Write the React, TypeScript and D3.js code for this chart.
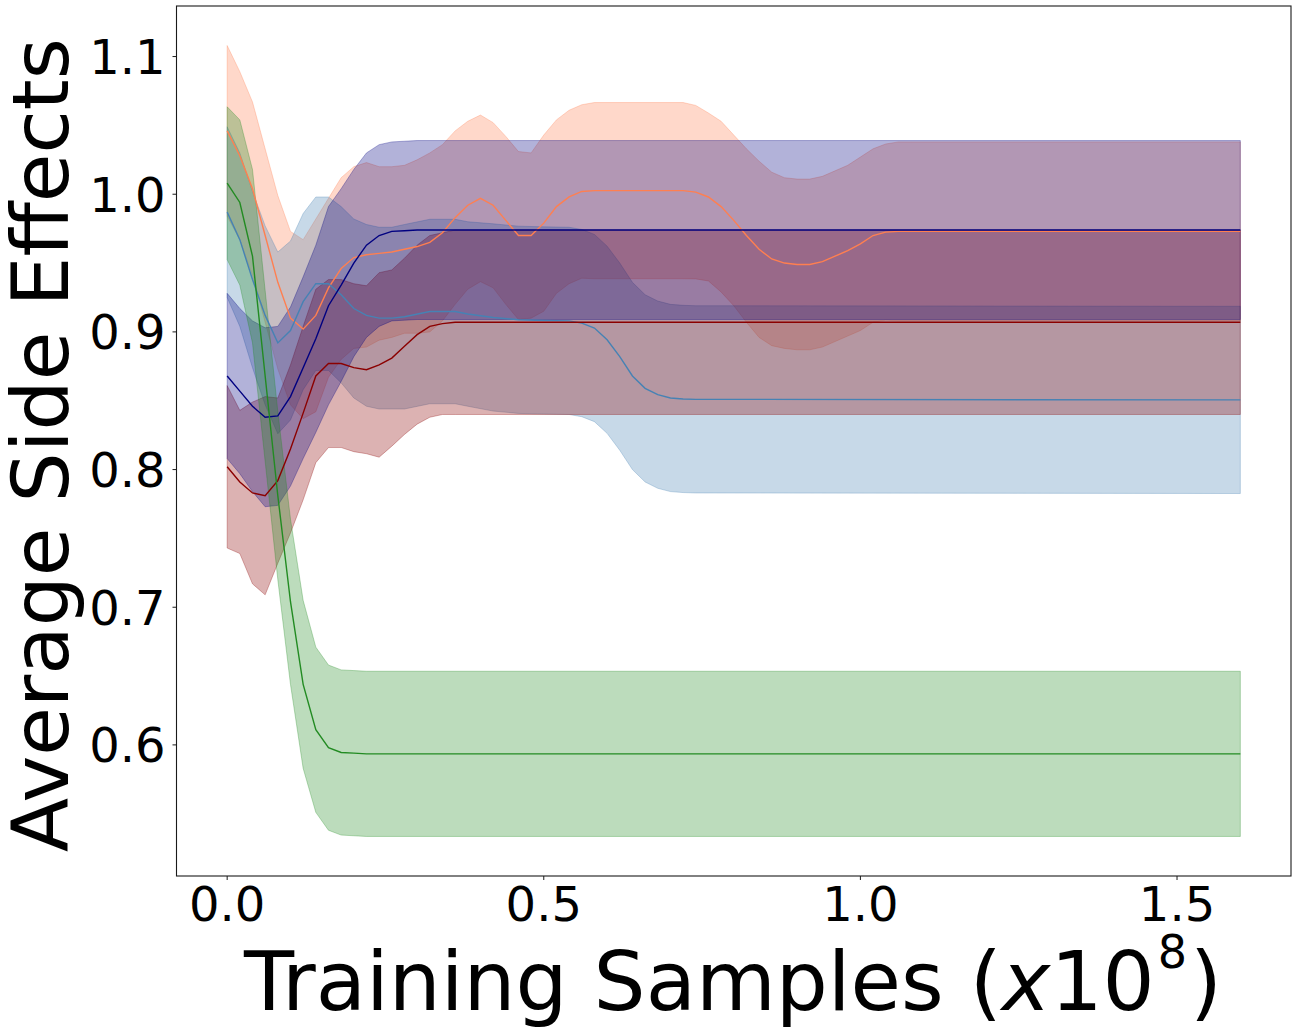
import { useRef, useEffect } from 'react';
import * as d3 from 'd3';

const xTicks = [0.0, 0.5, 1.0, 1.5];
const yTicks = [0.6, 0.7, 0.8, 0.9, 1.0, 1.1];

// coral run
const coralX = [0, 0.02, 0.04, 0.06, 0.08, 0.1, 0.12, 0.14, 0.16, 0.18, 0.2, 0.22, 0.24, 0.26, 0.28, 0.3, 0.32, 0.34, 0.36, 0.38, 0.4, 0.42, 0.44, 0.46, 0.48, 0.5, 0.52, 0.54, 0.56, 0.58, 0.72, 0.74, 0.76, 0.78, 0.8, 0.82, 0.84, 0.86, 0.88, 0.9, 0.92, 0.94, 0.96, 0.98, 1.0, 1.02, 1.04, 1.06, 1.08, 1.6];
const coralMean = [1.046, 1.028, 1.004, 0.97, 0.936, 0.91, 0.902, 0.912, 0.932, 0.946, 0.954, 0.956, 0.957, 0.958, 0.96, 0.962, 0.965, 0.972, 0.983, 0.992, 0.997, 0.992, 0.981, 0.97, 0.97, 0.979, 0.991, 0.998, 1.002, 1.0026, 1.0026, 1.0015, 0.998, 0.991, 0.981, 0.97, 0.96, 0.953, 0.95, 0.949, 0.949, 0.951, 0.955, 0.959, 0.964, 0.97, 0.9725, 0.973, 0.973, 0.973];
const coralSd = [0.062, 0.061, 0.063, 0.063, 0.063, 0.063, 0.065, 0.07, 0.065, 0.066, 0.066, 0.067, 0.063, 0.062, 0.061, 0.063, 0.065, 0.064, 0.063, 0.061, 0.0605, 0.06, 0.061, 0.061, 0.06, 0.064, 0.063, 0.063, 0.063, 0.064, 0.064, 0.063, 0.061, 0.062, 0.062, 0.063, 0.064, 0.063, 0.062, 0.062, 0.062, 0.062, 0.062, 0.062, 0.063, 0.063, 0.064, 0.065, 0.065, 0.065];

// navy run
const navyX = [0, 0.02, 0.04, 0.06, 0.08, 0.1, 0.12, 0.14, 0.16, 0.18, 0.2, 0.22, 0.24, 0.26, 0.28, 0.3, 1.6];
const navyMean = [0.868, 0.857, 0.846, 0.838, 0.839, 0.853, 0.874, 0.895, 0.919, 0.934, 0.95, 0.963, 0.97, 0.973, 0.9735, 0.974, 0.974];
const navySd = [0.06, 0.06, 0.062, 0.065, 0.065, 0.065, 0.066, 0.068, 0.072, 0.07, 0.068, 0.067, 0.066, 0.065, 0.065, 0.065, 0.065];

// darkred run
const redX = [0, 0.02, 0.04, 0.06, 0.08, 0.1, 0.12, 0.14, 0.16, 0.18, 0.2, 0.22, 0.24, 0.26, 0.28, 0.3, 0.32, 0.34, 0.36, 1.6];
const redMean = [0.802, 0.791, 0.783, 0.781, 0.792, 0.815, 0.841, 0.868, 0.877, 0.877, 0.874, 0.8725, 0.876, 0.881, 0.8895, 0.898, 0.904, 0.906, 0.907, 0.907];
const redSd = [0.059, 0.052, 0.066, 0.072, 0.06, 0.061, 0.063, 0.063, 0.061, 0.061, 0.061, 0.061, 0.067, 0.064, 0.064, 0.065, 0.066, 0.066, 0.067, 0.067];

// steelblue run
const blueX = [0, 0.02, 0.04, 0.06, 0.08, 0.1, 0.12, 0.14, 0.16, 0.18, 0.2, 0.22, 0.24, 0.26, 0.28, 0.32, 0.36, 0.38, 0.42, 0.46, 0.5, 0.54, 0.56, 0.58, 0.6, 0.62, 0.64, 0.66, 0.68, 0.7, 0.72, 0.74, 1.6];
const blueMean = [0.987, 0.967, 0.938, 0.912, 0.892, 0.901, 0.922, 0.935, 0.935, 0.927, 0.917, 0.912, 0.91, 0.91, 0.911, 0.9148, 0.9148, 0.913, 0.9105, 0.9088, 0.9083, 0.908, 0.9064, 0.9028, 0.8943, 0.882, 0.868, 0.859, 0.8544, 0.852, 0.8513, 0.851, 0.8506];
const blueSd = [0.062, 0.063, 0.064, 0.065, 0.066, 0.065, 0.064, 0.063, 0.063, 0.064, 0.065, 0.066, 0.066, 0.066, 0.067, 0.067, 0.067, 0.067, 0.068, 0.068, 0.068, 0.068, 0.068, 0.068, 0.068, 0.068, 0.068, 0.068, 0.068, 0.068, 0.068, 0.068, 0.068];

// forestgreen run
const greenX = [0, 0.02, 0.04, 0.06, 0.08, 0.1, 0.12, 0.14, 0.16, 0.18, 0.2, 0.22, 1.6];
const greenMean = [1.008, 0.994, 0.955, 0.868, 0.781, 0.704, 0.644, 0.611, 0.598, 0.5945, 0.594, 0.5935, 0.5935];
const greenSd = [0.0555, 0.06, 0.063, 0.062, 0.061, 0.06, 0.061, 0.06, 0.06, 0.06, 0.06, 0.06, 0.06];

interface Run {
  x: number[];
  mean: number[];
  sd: number[];
  color: string;
}

const runs: Run[] = [
  { x: coralX, mean: coralMean, sd: coralSd, color: '#ff7f50' },
  { x: blueX, mean: blueMean, sd: blueSd, color: '#4682b4' },
  { x: redX, mean: redMean, sd: redSd, color: '#8b0000' },
  { x: navyX, mean: navyMean, sd: navySd, color: '#000080' },
  { x: greenX, mean: greenMean, sd: greenSd, color: '#228b22' },
];

const width = 1298;
const height = 1036;
const font = "'DejaVu Sans', sans-serif";

export default function App() {
  const svgRef = useRef<SVGSVGElement>(null);

  useEffect(() => {
    const svg = d3.select(svgRef.current);
    svg.selectAll('*').remove();

    const left = 176.5;
    const right = 1291;
    const top = 6;
    const bottom = 876;

    // matplotlib-style 5% margins
    const xMin = d3.min(runs, (r) => d3.min(r.x)!)!;
    const xMax = d3.max(runs, (r) => d3.max(r.x)!)!;
    const yMin = d3.min(runs, (r) => d3.min(r.mean, (m, i) => m - r.sd[i])!)!;
    const yMax = d3.max(runs, (r) => d3.max(r.mean, (m, i) => m + r.sd[i])!)!;
    const xPad = (xMax - xMin) * 0.05;
    const yPad = (yMax - yMin) * 0.05;

    const x = d3.scaleLinear().domain([xMin - xPad, xMax + xPad]).range([left, right]);
    const y = d3.scaleLinear().domain([yMin - yPad, yMax + yPad]).range([bottom, top]);

    svg.append('rect').attr('width', width).attr('height', height).attr('fill', '#fff');

    // Bands
    for (const r of runs) {
      const idx = d3.range(r.x.length);
      const area = d3
        .area<number>()
        .x((i) => x(r.x[i]))
        .y0((i) => y(r.mean[i] - r.sd[i]))
        .y1((i) => y(r.mean[i] + r.sd[i]));
      svg
        .append('path')
        .datum(idx)
        .attr('d', area)
        .attr('fill', r.color)
        .attr('fill-opacity', 0.3)
        .attr('stroke', r.color)
        .attr('stroke-opacity', 0.3)
        .attr('stroke-width', 1);
    }

    // Mean lines
    for (const r of runs) {
      const idx = d3.range(r.x.length);
      const line = d3
        .line<number>()
        .x((i) => x(r.x[i]))
        .y((i) => y(r.mean[i]));
      svg
        .append('path')
        .datum(idx)
        .attr('d', line)
        .attr('fill', 'none')
        .attr('stroke', r.color)
        .attr('stroke-width', 1.4);
    }

    // Frame
    svg
      .append('rect')
      .attr('x', left)
      .attr('y', top)
      .attr('width', right - left)
      .attr('height', bottom - top)
      .attr('fill', 'none')
      .attr('stroke', '#1a1a1a')
      .attr('stroke-width', 1.1);

    // X ticks
    for (const t of xTicks) {
      const tx = x(t);
      svg
        .append('line')
        .attr('x1', tx)
        .attr('x2', tx)
        .attr('y1', bottom)
        .attr('y2', bottom + 4)
        .attr('stroke', '#1a1a1a')
        .attr('stroke-width', 1);
      svg
        .append('text')
        .attr('x', tx)
        .attr('y', 921)
        .attr('text-anchor', 'middle')
        .attr('font-family', font)
        .attr('font-size', '48px')
        .attr('fill', '#000')
        .text(t.toFixed(1));
    }

    // Y ticks
    for (const t of yTicks) {
      const ty = y(t);
      svg
        .append('line')
        .attr('x1', left - 4)
        .attr('x2', left)
        .attr('y1', ty)
        .attr('y2', ty)
        .attr('stroke', '#1a1a1a')
        .attr('stroke-width', 1);
      svg
        .append('text')
        .attr('x', 165.5)
        .attr('y', ty + 17.5)
        .attr('text-anchor', 'end')
        .attr('font-family', font)
        .attr('font-size', '48px')
        .attr('fill', '#000')
        .text(t.toFixed(1));
    }

    // X label
    const xl = svg
      .append('text')
      .attr('x', 733)
      .attr('y', 1010)
      .attr('text-anchor', 'middle')
      .attr('font-family', font)
      .attr('font-size', '82px')
      .attr('fill', '#000');
    xl.append('tspan').text('Training Samples (');
    xl.append('tspan').attr('font-style', 'italic').text('x');
    xl.append('tspan').text('10');
    xl.append('tspan').attr('font-size', '46px').attr('dx', 3).attr('dy', -42).text('8');
    xl.append('tspan').attr('dx', 3).attr('dy', 42).text(')');

    // Y label
    svg
      .append('text')
      .attr('transform', `translate(68,${(top + bottom) / 2 + 4}) rotate(-90)`)
      .attr('text-anchor', 'middle')
      .attr('font-family', font)
      .attr('font-size', '79px')
      .attr('fill', '#000')
      .text('Average Side Effects');
  }, []);

  return (
    <svg
      ref={svgRef}
      width={width}
      height={height}
      viewBox={`0 0 ${width} ${height}`}
      style={{ position: 'absolute', left: 0, top: 0, display: 'block' }}
    />
  );
}
